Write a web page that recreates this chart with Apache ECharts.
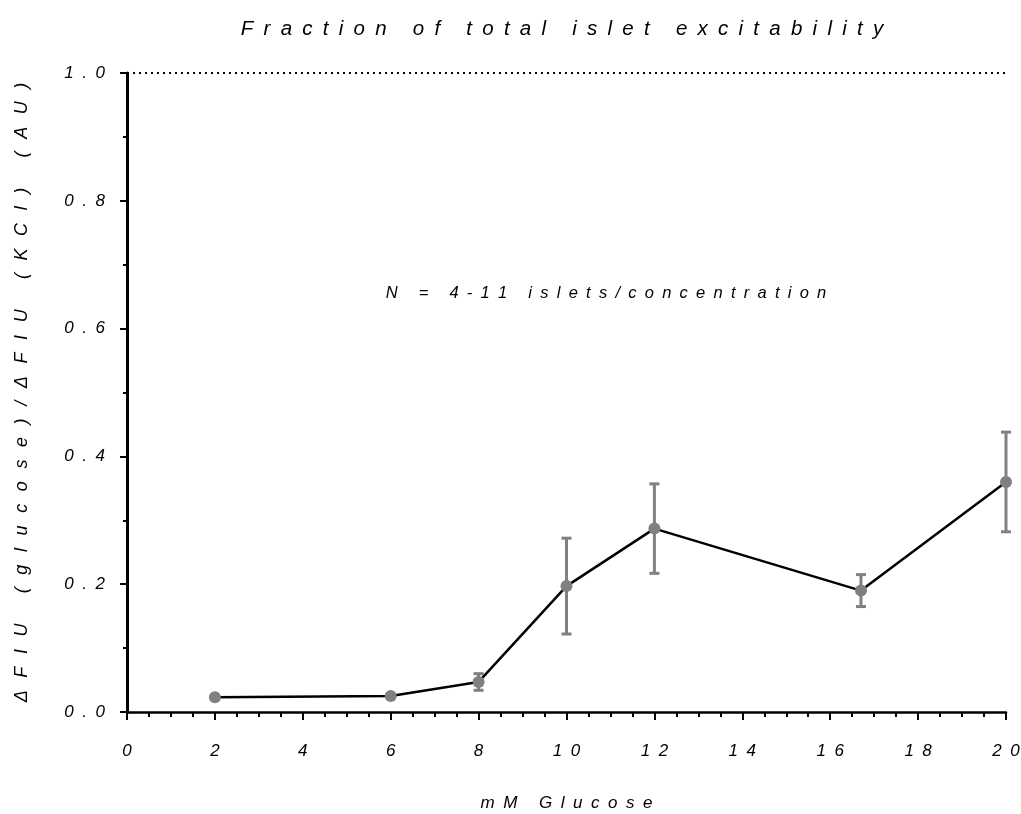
<!DOCTYPE html>
<html>
<head>
<meta charset="utf-8">
<title>Fraction of total islet excitability</title>
<script src="https://cdn.jsdelivr.net/npm/echarts@6/dist/echarts.min.js"></script>
<style>
  html, body { margin: 0; padding: 0; background: #fff; }
  #chart { width: 1021px; height: 814px; }
</style>
</head>
<body>
<div id="chart"></div>
<script>
// ---- data ----
var glucose = [2, 6, 8, 10, 12, 16.7, 20];               // mM
var meanVal = [0.023, 0.025, 0.047, 0.197, 0.287, 0.190, 0.360];
var semVal  = [0.003, 0.003, 0.013, 0.075, 0.070, 0.025, 0.078];

var titleText = 'Fraction of total islet excitability';
var noteText = 'N = 4-11 islets/concentration';
var xName = 'mM Glucose';
var yName = '\u0394FIU (glucose)/\u0394FIU (KCl) (AU)';

var FONT = '"Liberation Sans", Arial, sans-serif';
var GAP = '\u2002';          // en space between letters
var WIDE = '\u2002\u2009';   // a bit wider, for the y axis title

// spread the letters out like the original figure
function spaced(s, j) {
  return s.split('').join(j || GAP);
}

var linePts = glucose.map(function (g, i) { return [g, meanVal[i]]; });
var errPts = glucose.map(function (g, i) { return [g, meanVal[i] - semVal[i], meanVal[i] + semVal[i]]; });

var chart = echarts.init(document.getElementById('chart'));

var option = {
  animation: false,
  backgroundColor: '#fff',
  grid: { left: 127, right: 15, top: 73, bottom: 102, outerBoundsMode: 'none' },
  graphic: [
    {
      type: 'text', x: 562, y: 29,
      style: { text: spaced(titleText), fontFamily: FONT, fontStyle: 'italic', fontSize: 20.5,
               fill: '#000', textAlign: 'center', textVerticalAlign: 'middle' }
    },
    {
      type: 'text', x: 606, y: 293,
      style: { text: spaced(noteText), fontFamily: FONT, fontStyle: 'italic', fontSize: 16.5,
               fill: '#000', textAlign: 'center', textVerticalAlign: 'middle' }
    }
  ],
  xAxis: {
    type: 'value', min: 0, max: 20, interval: 2,
    name: spaced(xName), nameLocation: 'middle', nameGap: 83,
    nameTextStyle: { fontFamily: FONT, fontStyle: 'italic', fontSize: 17, color: '#000' },
    axisLine: { lineStyle: { color: '#000', width: 2.5 } },
    axisTick: { length: 8, lineStyle: { color: '#000', width: 2 } },
    minorTick: { show: true, splitNumber: 4, length: 5, lineStyle: { color: '#000', width: 2 } },
    splitLine: { show: false },
    axisLabel: {
      margin: 31, fontFamily: FONT, fontStyle: 'italic', fontSize: 17, color: '#000',
      formatter: function (v) { return spaced(String(v)); }
    }
  },
  yAxis: {
    type: 'value', min: 0, max: 1, interval: 0.2,
    name: spaced(yName, WIDE), nameLocation: 'middle', nameGap: 96,
    nameTextStyle: { fontFamily: FONT, fontStyle: 'italic', fontSize: 18, color: '#000' },
    axisLine: { lineStyle: { color: '#000', width: 3 } },
    axisTick: { length: 7, lineStyle: { color: '#000', width: 2 } },
    minorTick: { show: true, splitNumber: 2, length: 4, lineStyle: { color: '#000', width: 2 } },
    splitLine: { show: false },
    axisLabel: {
      margin: 22, fontFamily: FONT, fontStyle: 'italic', fontSize: 17, color: '#000',
      formatter: function (v) { return spaced(v.toFixed(1)); }
    }
  },
  series: [
    {
      type: 'custom',
      z: 2,
      data: errPts,
      renderItem: function (params, api) {
        var x = api.value(0);
        var lo = api.coord([x, api.value(1)]);
        var hi = api.coord([x, api.value(2)]);
        var cw = 5;
        var st = { stroke: '#808080', lineWidth: 3 };
        return {
          type: 'group',
          children: [
            { type: 'line', shape: { x1: lo[0], y1: lo[1], x2: hi[0], y2: hi[1] }, style: st },
            { type: 'line', shape: { x1: hi[0] - cw, y1: hi[1], x2: hi[0] + cw, y2: hi[1] }, style: st },
            { type: 'line', shape: { x1: lo[0] - cw, y1: lo[1], x2: lo[0] + cw, y2: lo[1] }, style: st }
          ]
        };
      }
    },
    {
      type: 'line',
      z: 3,
      data: linePts,
      symbol: 'circle',
      symbolSize: 12,
      lineStyle: { color: '#000', width: 2.5 },
      itemStyle: { color: '#808080' },
      markLine: {
        silent: true,
        symbol: 'none',
        label: { show: false },
        lineStyle: { color: '#000', width: 2, type: [2, 4] },
        data: [{ yAxis: 1 }]
      }
    }
  ]
};

chart.setOption(option);
</script>
</body>
</html>
